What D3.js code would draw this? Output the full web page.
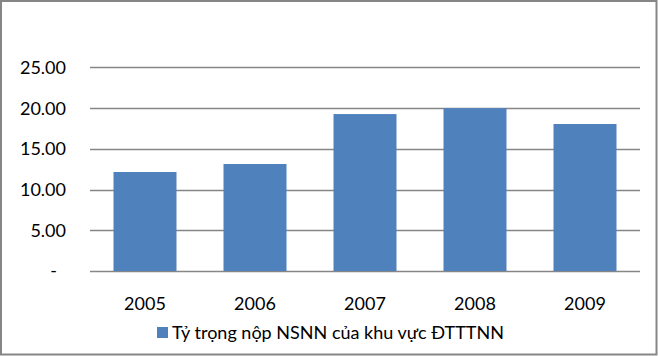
<!DOCTYPE html>
<html><head><meta charset="utf-8">
<script src="https://cdn.jsdelivr.net/npm/d3@7"></script>
<style>body{margin:0;background:#fff}svg{display:block}</style>
</head><body>
<script>
const categories = ["2005","2006","2007","2008","2009"];
const values = [12.15, 13.13, 19.26, 19.98, 18.04];
const yTicks = [0, 5, 10, 15, 20, 25];
const seriesName = "Tỷ trọng nộp NSNN của khu vực ĐTTTNN";

const W = 658, H = 356;
const font = "Lato, 'Open Sans', sans-serif";
const svg = d3.select("body").append("svg").attr("width", W).attr("height", H);
svg.append("rect").attr("x",1).attr("y",1).attr("width",W-2.5).attr("height",H-2.5)
  .attr("fill","#fff").attr("stroke","#868686").attr("stroke-width",2);

const x = d3.scaleBand().domain(categories).range([90, 640]).paddingInner(47/110).paddingOuter(47/220);
const y = d3.scaleLinear().domain([0, 25]).range([271, 67.3]);

const g = svg.append("g");
g.selectAll("line.grid").data(yTicks).join("line")
  .attr("x1", 90).attr("x2", 640)
  .attr("y1", d => Math.round(y(d)) + 0.5).attr("y2", d => Math.round(y(d)) + 0.5)
  .attr("stroke", "#868686").attr("stroke-width", 1.5);

g.selectAll("rect.bar").data(values).join("rect")
  .attr("x", (d,i) => x(categories[i])).attr("width", x.bandwidth())
  .attr("y", d => y(d)).attr("height", d => y(0) - y(d))
  .attr("fill", "#4F81BD");

g.selectAll("text.ylab").data(yTicks).join("text")
  .attr("x", d => d === 0 ? 57 : 66).attr("y", d => y(d))
  .attr("dy", "0.36em").attr("text-anchor", "end")
  .attr("font-family", font).attr("font-size", 18).attr("fill", "#000")
  .text(d => d === 0 ? "-" : d3.format(".2f")(d));

g.selectAll("text.xlab").data(categories).join("text")
  .attr("x", d => x(d) + x.bandwidth()/2).attr("y", 310)
  .attr("text-anchor", "middle")
  .attr("font-family", font).attr("font-size", 18).attr("fill", "#000")
  .text(d => d);

svg.append("rect").attr("x", 157).attr("y", 327).attr("width", 11).attr("height", 11).attr("fill", "#4F81BD");
svg.append("text").attr("x", 172).attr("y", 338.5)
  .attr("font-family", font).attr("font-size", 18).attr("fill", "#000")
  .text(seriesName);
</script>
</body></html>
